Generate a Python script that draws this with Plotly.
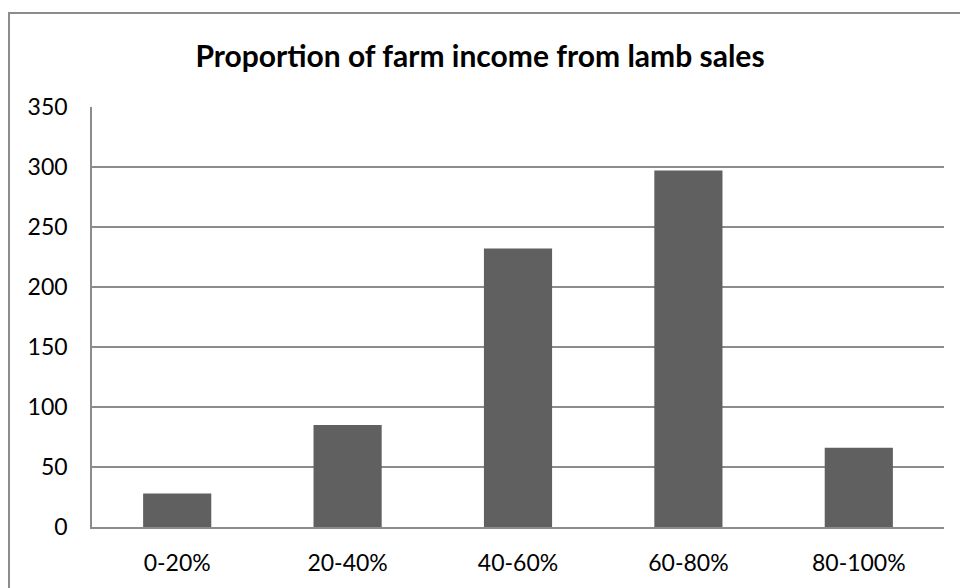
import plotly.graph_objects as go

categories = ["0-20%", "20-40%", "40-60%", "60-80%", "80-100%"]
values = [28, 85, 232, 297, 66]
y_ticks = [0, 50, 100, 150, 200, 250, 300, 350]
title_text = "Proportion of farm income from lamb sales"

L, R, T, B = 92, 16, 107, 61
W, H = 960, 588
pw = W - L - R
ph = H - T - B

fig = go.Figure(go.Bar(x=categories, y=values, marker=dict(color="#606060", line=dict(width=0))))

fig.update_layout(
    width=W, height=H,
    margin=dict(l=L, r=R, t=T, b=B),
    paper_bgcolor="white", plot_bgcolor="white",
    bargap=0.6,
    showlegend=False,
    font=dict(family="Lato, 'Open Sans', sans-serif", size=23, color="#000000"),
    title=dict(text="<b>" + title_text + "</b>", x=0.5, xanchor="center", y=1 - 56 / H, yanchor="middle",
               font=dict(size=30, family="Lato, 'Open Sans', sans-serif", color="#000000")),
    xaxis=dict(showgrid=False, showline=True, linecolor="#8c8c8c", linewidth=2, ticks="",
               ticklabelstandoff=14, tickfont=dict(size=23)),
    yaxis=dict(range=[0, 350], tickvals=y_ticks, showgrid=True, gridcolor="#8c8c8c", gridwidth=1.5,
               showline=True, linecolor="#8c8c8c", linewidth=1.5, ticks="", zeroline=False,
               ticklabelstandoff=18, tickfont=dict(size=23)),
    shapes=[dict(type="rect", xref="paper", yref="paper",
                 x0=(9 - L) / pw, x1=(W + 10 - L) / pw,
                 y0=(H - B - (H + 10)) / ph, y1=(H - B - 13) / ph,
                 line=dict(color="#8c8c8c", width=2), fillcolor="rgba(0,0,0,0)", layer="below")],
)

fig.write_html("out.html")
